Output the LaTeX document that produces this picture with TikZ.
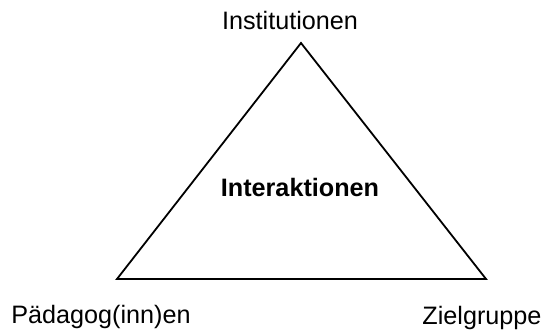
\documentclass[tikz,border=0pt]{standalone}
\usepackage{fontspec}
\setmainfont{Liberation Sans}
\usepackage{tikz}
\usetikzlibrary{positioning, calc}

\begin{document}
\begin{tikzpicture}[x=0.5pt, y=0.5pt,
  lbl/.style={inner sep=0pt, font=\fontsize{12.6}{15}\selectfont},
  tri/.style={line width=0.9pt, line join=miter}]
\useasboundingbox (0,0) rectangle (542,332);
\coordinate (apex) at (301,289);
\coordinate (left) at (117,53);
\coordinate (right) at (486,53);
\draw[tri] (apex) -- (left) -- (right) -- cycle;
\node[lbl] (inst) at (290,312) {Institutionen};
\node[lbl] (paed) at (101,15) {Pädagog(inn)en};
\node[lbl] (ziel) at (482,14) {Zielgruppe};
\node[lbl, font=\fontsize{12.6}{15}\selectfont\bfseries] (inter) at (300,145) {Interaktionen};
\end{tikzpicture}
\end{document}
